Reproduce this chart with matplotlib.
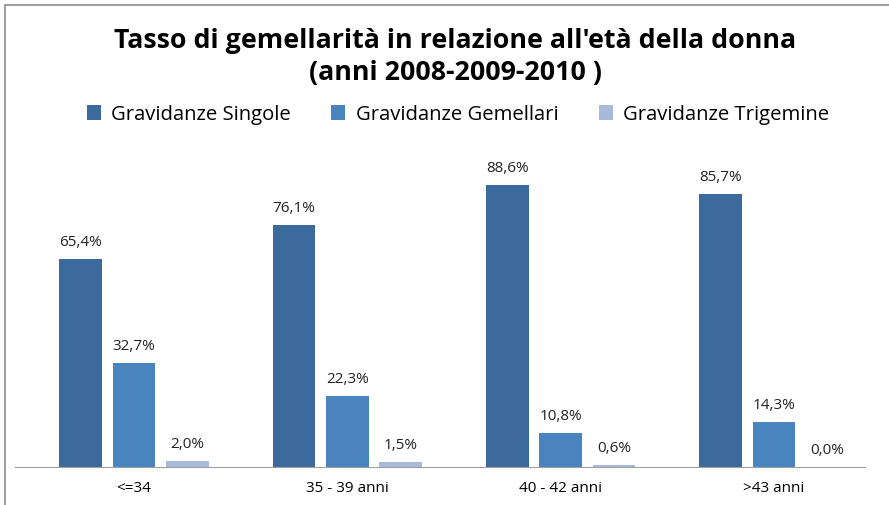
import matplotlib
matplotlib.use('Agg')
import matplotlib.pyplot as plt
from matplotlib.patches import Rectangle
import numpy as np

matplotlib.rc('font', family=['Open Sans', 'DejaVu Sans'])

categories = ['<=34', '35 - 39 anni', '40 - 42 anni', '>43 anni']
singole = [65.4, 76.1, 88.6, 85.7]
gemellari = [32.7, 22.3, 10.8, 14.3]
trigemine = [2.0, 1.5, 0.6, 0.0]
series_names = ['Gravidanze Singole', 'Gravidanze Gemellari', 'Gravidanze Trigemine']
colors = ['#3C6A9C', '#4A84BF', '#A9B9DA']

fig = plt.figure(figsize=(8.89, 5.05), dpi=100)
ax = fig.add_axes([0.0169, 0.0752, 0.9561, 0.630])

x = np.arange(len(categories))
width = 0.2
offsets = [-0.25, 0.0, 0.25]
for vals, off, col, name in zip([singole, gemellari, trigemine], offsets, colors, series_names):
    bars = ax.bar(x + off, vals, width, color=col, label=name)
    for b, v in zip(bars, vals):
        ax.text(b.get_x() + b.get_width() / 2, v + 2.8, f'{v:.1f}%'.replace('.', ','),
                ha='center', va='bottom', fontsize=11, color='#222222')

ax.set_xlim(-0.558, 3.427)
ax.set_ylim(0, 100)
ax.set_yticks([])
ax.set_xticks(x)
ax.set_xticklabels(categories, fontsize=11)
ax.tick_params(axis='x', length=0, pad=10)
for s in ['top', 'right', 'left']:
    ax.spines[s].set_visible(False)
ax.spines['bottom'].set_color('#A0A0A0')

fig.text(0.512, 0.918, "Tasso di gemellarità in relazione all'età della donna",
         ha='center', va='center', fontsize=19.3, fontweight='bold')
fig.text(0.512, 0.855, "(anni 2008-2009-2010 )",
         ha='center', va='center', fontsize=19.3, fontweight='bold')

fig.legend(loc='center', bbox_to_anchor=(0.515, 0.773), ncol=3, frameon=False,
           fontsize=14.6, handlelength=0.7, handleheight=0.7, handletextpad=0.5,
           columnspacing=2.0)

fig.patches.append(Rectangle((5 / 889, -0.1), 1.2, 1.1 - 5 / 505,
                             transform=fig.transFigure, fill=False,
                             edgecolor='#8C8C8C', linewidth=1.2))

plt.savefig('out.png', dpi=100)
